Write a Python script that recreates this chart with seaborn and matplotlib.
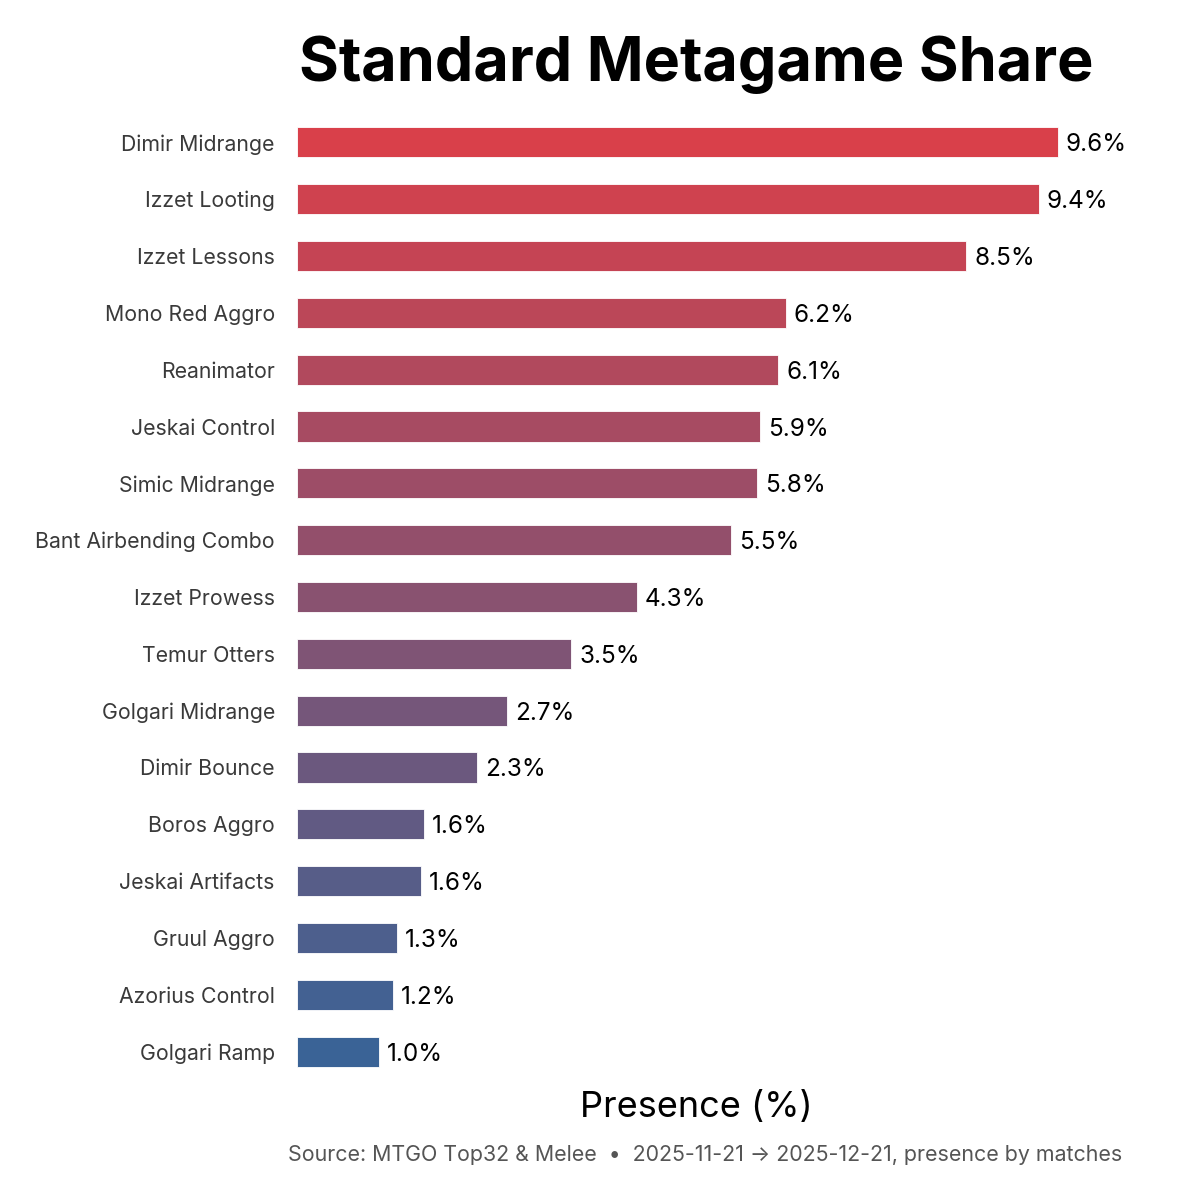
#!/usr/bin/env python3
"""Standard metagame share - horizontal bar chart."""

import matplotlib.pyplot as plt
import numpy as np
import pandas as pd
import seaborn as sns
from matplotlib.colors import LinearSegmentedColormap

archetypes = [
    "Dimir Midrange", "Izzet Looting", "Izzet Lessons", "Mono Red Aggro",
    "Reanimator", "Jeskai Control", "Simic Midrange", "Bant Airbending Combo",
    "Izzet Prowess", "Temur Otters", "Golgari Midrange", "Dimir Bounce",
    "Boros Aggro", "Jeskai Artifacts", "Gruul Aggro", "Azorius Control",
    "Golgari Ramp",
]
presence = [
    9.63, 9.39, 8.47, 6.19, 6.09, 5.86, 5.82, 5.49, 4.30, 3.47, 2.66,
    2.28, 1.61, 1.57, 1.26, 1.22, 1.04,
]

df = pd.DataFrame({"archetype": archetypes, "presence": presence})

sns.set_theme(style="white")
plt.rcParams["font.family"] = ["Inter", "DejaVu Sans"]

# red -> blue by rank
cmap = LinearSegmentedColormap.from_list("rb", ["#d9404a", "#3a6396"])
colors = [cmap(i / (len(df) - 1)) for i in range(len(df))]

fig = plt.figure(figsize=(12, 12), dpi=100)
ax = fig.add_axes([0.2475, 0.10, 0.665, 0.805])

sns.barplot(
    data=df, x="presence", y="archetype", hue="archetype",
    palette=colors, legend=False, width=0.53, saturation=1,
    edgecolor="white", linewidth=0.6, ax=ax,
)

for i, v in enumerate(df["presence"]):
    ax.text(v + 0.1, i, f"{v:.1f}%", va="center_baseline", ha="left",
            fontsize=17.5, color="black")

ax.set_xlim(0, 10.1)
ax.set_xticks([])
ax.set_ylabel("")
ax.set_xlabel("Presence (%)", fontsize=26, color="black", labelpad=8)
ax.tick_params(axis="y", length=0, labelsize=15.3, labelcolor="#3a3a3a", pad=16)
sns.despine(ax=ax, left=True, bottom=True)

ax.set_title("Standard Metagame Share", fontsize=44, fontweight="bold",
             color="black", pad=24)

fig.text(0.5875, 0.0375, "Source: MTGO Top32 & Melee  \u2022  2025-11-21 \u2192 2025-12-21, presence by matches",
         ha="center", va="center", fontsize=15.4, color="#555555")

fig.savefig("out.png", dpi=100)
plt.close(fig)
